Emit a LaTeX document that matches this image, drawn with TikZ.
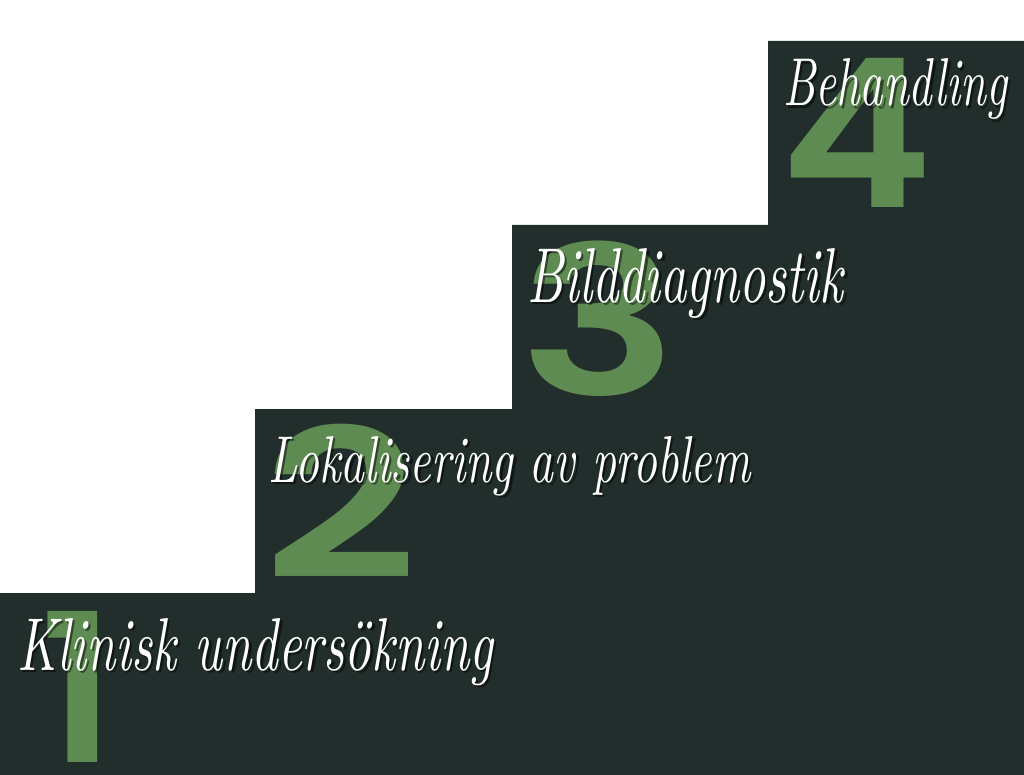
\documentclass[tikz,border=0pt]{standalone}
\usepackage{fontspec}
\usepackage{graphicx}
\newfontfamily\numfont{Poppins SemiBold}
\definecolor{stair}{HTML}{212E2C}
\definecolor{numgreen}{HTML}{5E8B51}
\newcommand{\stepword}[3]{\resizebox{#1}{#2}{\itshape #3}}
\newcommand{\bignum}[2]{\scalebox{#1}[0.955]{#2}}
\tikzset{
  digit/.style={text=numgreen, font=\numfont\fontsize{217}{217}\selectfont, inner sep=0pt, anchor=base},
  steptext/.style={text=white, inner sep=0pt, anchor=base west},
  stepshadow/.style={text=black, opacity=0.5, inner sep=0pt, anchor=base west}
}
\begin{document}
\begin{tikzpicture}[x=1pt,y=-1pt]
\fill[white] (0,0) rectangle (1024,775);
\useasboundingbox (0,0) rectangle (1024,775);
\fill[stair] (0,593) -- (255,593) -- (255,409) -- (512,409) -- (512,225) -- (768,225) -- (768,41) -- (1024,41) -- (1024,775) -- (0,775) -- cycle;
\node[digit] (d1) at (78,762) {\bignum{0.95}{1}};
\node[digit] (d2) at (341,578) {\bignum{1.24}{2}};
\node[digit] (d3) at (599,395) {\bignum{1.22}{3}};
\node[digit] (d4) at (857,208) {\bignum{1.06}{4}};
% shadows
\node[stepshadow] (s1) at (19.5,672.5) {\stepword{476pt}{52pt}{Klinisk undersökning}};
\node[stepshadow] (s2) at (270.5,484.5) {\stepword{482pt}{46pt}{Lokalisering av problem}};
\node[stepshadow] (s3) at (529.5,304.5) {\stepword{316pt}{54pt}{Bilddiagnostik}};
\node[stepshadow] (s4) at (785.5,108.5) {\stepword{224pt}{47pt}{Behandling}};
% texts
\node[steptext] (t1) at (17,670) {\stepword{476pt}{52pt}{Klinisk undersökning}};
\node[steptext] (t2) at (268,482) {\stepword{482pt}{46pt}{Lokalisering av problem}};
\node[steptext] (t3) at (527,302) {\stepword{316pt}{54pt}{Bilddiagnostik}};
\node[steptext] (t4) at (783,106) {\stepword{224pt}{47pt}{Behandling}};
\end{tikzpicture}
\end{document}
